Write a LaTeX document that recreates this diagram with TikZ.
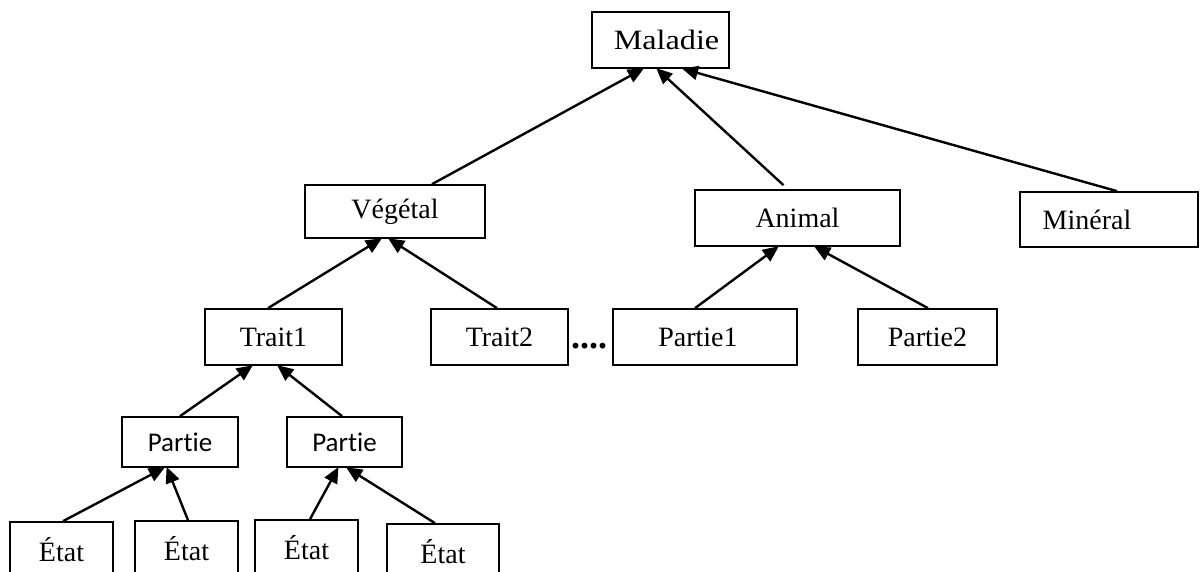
\documentclass[tikz,border=0pt]{standalone}
\usepackage{fontspec}
\setmainfont{Liberation Serif}
\newfontfamily\calibrifont[Ligatures=NoCommon]{Carlito}
\usetikzlibrary{arrows.meta}
\begin{document}
\begin{tikzpicture}[x=1pt,y=-1pt,
  box/.style={draw=black, line width=1.7pt, rectangle, inner sep=0pt,
    font=\fontsize{28}{32}\selectfont},
  cbox/.style={box, font=\calibrifont\fontsize{27}{32}\selectfont},
  arr/.style={line width=2.4pt, -{Triangle[length=16pt,width=14pt]}, shorten >=-1pt}]
\useasboundingbox (0,0) rectangle (1200,572);
\clip (0,0) rectangle (1200,572);
\node[box, minimum width=137, minimum height=56] (mal) at (660.5,40) {\hspace*{12pt}\scalebox{1.15}[1]{Maladie}};
\node[box, minimum width=180, minimum height=53] (veg) at (395,211.5) {Végétal};
\node[box, minimum width=205, minimum height=56] (ani) at (797.5,218) {Animal};
\node[box, minimum width=178, minimum height=55] (min) at (1109,219.5) {Minéral\hspace*{44pt}};
\node[box, minimum width=137, minimum height=56] (t1) at (273.5,337) {Trait1};
\node[box, minimum width=137, minimum height=56] (t2) at (499.5,337) {Trait2};
\node[font=\bfseries\fontsize{36}{40}\selectfont, inner sep=0pt, anchor=base] (dots) at (589,348) {....};
\node[box, minimum width=184, minimum height=56] (p1) at (705,337) {Partie1\hspace*{14pt}};
\node[box, minimum width=139, minimum height=56] (p2) at (927.5,337) {Partie2};
\node[cbox, minimum width=116, minimum height=50] (pa) at (180,442) {Partie};
\node[cbox, minimum width=115, minimum height=50] (pb) at (344.5,442) {Partie};
\node[box, minimum width=103, minimum height=56] (e1) at (61.5,550) {État};
\node[box, minimum width=103, minimum height=56] (e2) at (186.5,549) {État};
\node[box, minimum width=103, minimum height=56] (e3) at (306.5,548) {État};
\node[box, minimum width=112, minimum height=56] (e4) at (443,552) {État};
% connectors
\draw[arr] ([xshift=37pt]veg.north) -- ([xshift=-17.5pt]mal.south);
\draw[arr] ([xshift=-14pt,yshift=4pt]ani.north) -- ([xshift=-3.5pt]mal.south);
\draw[arr] ([xshift=8pt]min.north) -- ([xshift=22.5pt]mal.south);
\draw[arr] ([xshift=-5.5pt]t1.north) -- ([xshift=-14pt]veg.south);
\draw[arr] ([xshift=-2.5pt]t2.north) -- ([xshift=-6pt]veg.south);
\draw[arr] ([xshift=-10pt]p1.north) -- ([xshift=-19.5pt]ani.south);
\draw[arr] ([xshift=0.5pt]p2.north) -- ([xshift=17.5pt]ani.south);
\draw[arr] (pa.north) -- ([xshift=-21.5pt]t1.south);
\draw[arr] ([xshift=-2.5pt]pb.north) -- ([xshift=4.5pt]t1.south);
\draw[arr] ([xshift=1.5pt]e1.north) -- ([xshift=-16pt]pa.south);
\draw[arr] ([xshift=1.5pt]e2.north) -- ([xshift=-13pt]pa.south);
\draw[arr] ([xshift=3.5pt]e3.north) -- ([xshift=-6.5pt]pb.south);
\draw[arr] ([xshift=-8pt]e4.north) -- ([xshift=2.5pt]pb.south);
\end{tikzpicture}
\end{document}
